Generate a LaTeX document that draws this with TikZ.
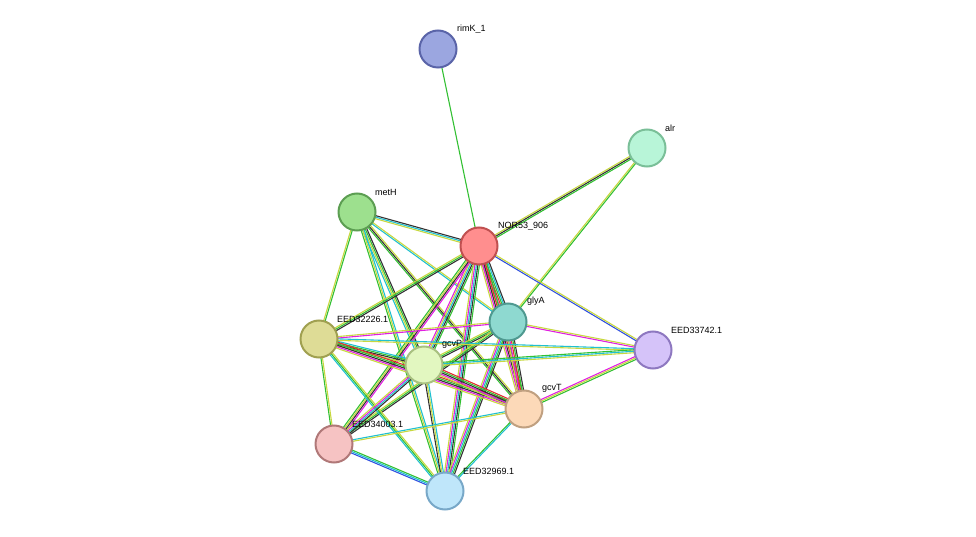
\documentclass[tikz,border=0pt]{standalone}
\usepackage{fontspec}
\setmainfont{Liberation Sans}
\usetikzlibrary{calc}
\definecolor{cY}{HTML}{C8D840}
\definecolor{cG}{HTML}{33C033}
\definecolor{cK}{HTML}{333333}
\definecolor{cM}{HTML}{E020E0}
\definecolor{cC}{HTML}{20C0D0}
\definecolor{cR}{HTML}{E03030}
\definecolor{cB}{HTML}{3050E0}
\newcommand{\stredge}[3]{%
  \foreach \c [count=\i] in {#3} {\xdef\nn{\i}}%
  \foreach \c [count=\i] in {#3} {%
    \pgfmathsetmacro{\off}{(\i-(\nn+1)/2)*1.5}%
    \draw[line width=1.1pt,draw=\c] ($(#1)!\off pt!90:(#2)$) -- ($(#2)!\off pt!-90:(#1)$);}%
}
\tikzset{prot/.style={circle,minimum size=37pt,inner sep=0pt,line width=2pt},
  lab/.style={font=\fontsize{9pt}{10pt}\selectfont,anchor=south west,inner sep=0pt}}
\begin{document}
\begin{tikzpicture}[x=1pt,y=-1pt]
\useasboundingbox (0,0) rectangle (976,537);
\coordinate (rimK) at (438,49);
\coordinate (alr) at (647,148);
\coordinate (metH) at (357,212);
\coordinate (NOR) at (479,246);
\coordinate (glyA) at (508,322);
\coordinate (E26) at (319,339);
\coordinate (gcvP) at (424,365);
\coordinate (E42) at (653,350);
\coordinate (gcvT) at (524,409);
\coordinate (E03) at (334,444);
\coordinate (E69) at (445,491);
\stredge{rimK}{NOR}{cG}
\stredge{alr}{NOR}{cY,cK,cG}
\stredge{alr}{glyA}{cY,cG}
\stredge{metH}{NOR}{cY,cC,cK}
\stredge{metH}{glyA}{cC,cY}
\stredge{metH}{E26}{cY,cG}
\stredge{metH}{gcvP}{cC,cY,cG,cK}
\stredge{metH}{gcvT}{cG,cK,cY}
\stredge{metH}{E69}{cG,cY,cC}
\stredge{NOR}{glyA}{cY,cM,cR,cG,cC,cK}
\stredge{NOR}{E42}{cB,cY}
\stredge{NOR}{E26}{cY,cG,cK}
\stredge{NOR}{gcvP}{cM,cY,cC,cK,cG}
\stredge{NOR}{gcvT}{cY,cM,cK,cR,cG}
\stredge{NOR}{E03}{cG,cY,cK,cM}
\stredge{NOR}{E69}{cY,cM,cC,cK,cG}
\stredge{glyA}{E42}{cM,cY}
\stredge{glyA}{E26}{cY,cM}
\stredge{glyA}{gcvP}{cY,cG,cK}
\stredge{glyA}{gcvT}{cY,cM,cR,cG,cK}
\stredge{glyA}{E03}{cY,cG,cK}
\stredge{glyA}{E69}{cY,cM,cC,cG,cK}
\stredge{E26}{gcvP}{cY,cK,cG,cC}
\stredge{E26}{gcvT}{cY,cM,cK,cG,cR}
\stredge{E26}{E42}{cY,cC}
\stredge{E26}{E03}{cG,cY}
\stredge{E26}{E69}{cC,cG,cY}
\stredge{gcvP}{gcvT}{cY,cM,cK,cG,cR}
\stredge{gcvP}{E42}{cY,cC,cG}
\stredge{gcvP}{E03}{cY,cM,cC,cK}
\stredge{gcvP}{E69}{cK,cY,cC}
\stredge{gcvT}{E42}{cG,cY,cM}
\stredge{gcvT}{E03}{cC,cY}
\stredge{gcvT}{E69}{cG,cC}
\stredge{E03}{E69}{cB,cC,cG}
\node[prot,fill={rgb,255:red,155;green,166;blue,224},draw={rgb,255:red,90;green,100;blue,168}] (n1) at (rimK) {};
\node[prot,fill={rgb,255:red,184;green,245;blue,216},draw={rgb,255:red,122;green,191;blue,152}] (n2) at (alr) {};
\node[prot,fill={rgb,255:red,157;green,224;blue,142},draw={rgb,255:red,92;green,158;blue,82}] (n3) at (metH) {};
\node[prot,fill={rgb,255:red,255;green,142;blue,142},draw={rgb,255:red,192;green,80;blue,80}] (n4) at (NOR) {};
\node[prot,fill={rgb,255:red,142;green,217;blue,208},draw={rgb,255:red,79;green,153;blue,144}] (n5) at (glyA) {};
\node[prot,fill={rgb,255:red,222;green,220;blue,150},draw={rgb,255:red,160;green,160;blue,80}] (n6) at (E26) {};
\node[prot,fill={rgb,255:red,226;green,247;blue,192},draw={rgb,255:red,168;green,192;blue,128}] (n7) at (gcvP) {};
\node[prot,fill={rgb,255:red,213;green,195;blue,249},draw={rgb,255:red,142;green,120;blue,192}] (n8) at (E42) {};
\node[prot,fill={rgb,255:red,252;green,217;blue,184},draw={rgb,255:red,192;green,160;blue,128}] (n9) at (gcvT) {};
\node[prot,fill={rgb,255:red,246;green,195;blue,195},draw={rgb,255:red,176;green,120;blue,120}] (n10) at (E03) {};
\node[prot,fill={rgb,255:red,191;green,230;blue,250},draw={rgb,255:red,120;green,168;blue,200}] (n11) at (E69) {};
\node[lab] (l1) at (457,33) {rimK\_1};
\node[lab] (l2) at (665,132) {alr};
\node[lab] (l3) at (375,196) {metH};
\node[lab] (l4) at (498,230) {NOR53\_906};
\node[lab] (l5) at (527,306) {glyA};
\node[lab] (l6) at (337,323) {EED32226.1};
\node[lab] (l7) at (442,349) {gcvP};
\node[lab] (l8) at (671,334) {EED33742.1};
\node[lab] (l9) at (542,393) {gcvT};
\node[lab] (l10) at (352,428) {EED34003.1};
\node[lab] (l11) at (463,475) {EED32969.1};
\end{tikzpicture}
\end{document}
